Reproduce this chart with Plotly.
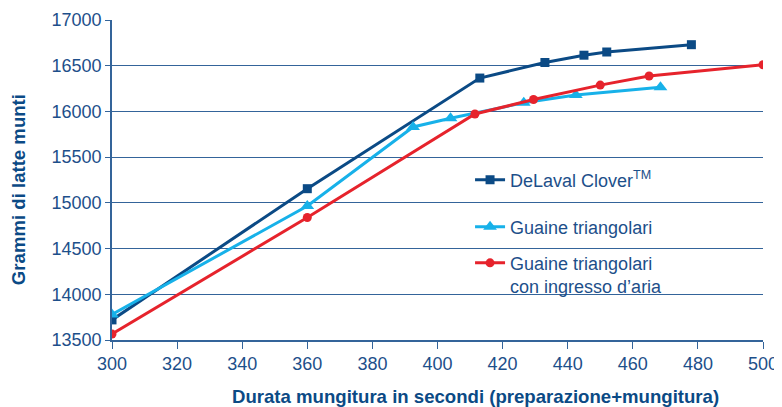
import plotly.graph_objects as go

clover_x = [300, 360, 413, 433, 445, 452, 478]
clover_y = [13720, 15155, 16365, 16535, 16615, 16650, 16730]

tri_x = [300, 360, 392.5, 404, 426.5, 442.5, 468.5]
tri_y = [13780, 14965, 15830, 15925, 16095, 16180, 16265]

air_x = [300, 360, 411.5, 429.5, 450, 465, 500]
air_y = [13565, 14840, 15972, 16130, 16288, 16388, 16510]

names = ["DeLaval Clover<sup>TM</sup>", "Guaine triangolari", "Guaine triangolari<br>con ingresso d\u2019aria"]
x_title = "Durata mungitura in secondi (preparazione+mungitura)"
y_title = "Grammi di latte munti"

NAVY = "#0b4a85"
LIGHT = "#17b1e9"
RED = "#e6232c"
TXT = "#1d4f8a"
GRID = "#34649a"
FONT = "Liberation Sans, Arial, sans-serif"
FS = 18

fig = go.Figure()
fig.add_trace(go.Scatter(x=clover_x, y=clover_y, name=names[0], mode="lines+markers",
                         line=dict(color=NAVY, width=3), marker=dict(symbol="square", size=9, color=NAVY),
                         legend="legend", showlegend=True))
fig.add_trace(go.Scatter(x=tri_x, y=tri_y, name=names[1], mode="lines+markers",
                         line=dict(color=LIGHT, width=3), marker=dict(symbol="triangle-up", size=12, color=LIGHT),
                         legend="legend2", showlegend=True))
fig.add_trace(go.Scatter(x=air_x, y=air_y, name=names[2], mode="lines+markers",
                         line=dict(color=RED, width=3), marker=dict(symbol="circle", size=9, color=RED),
                         legend="legend3", showlegend=True))

leg_common = dict(x=0.55, xanchor="left", yanchor="top", bgcolor="rgba(0,0,0,0)",
                  font=dict(size=FS, color=TXT), itemwidth=30, valign="top")

# page body has an 8px default margin, so the figure is offset by 8px
fig.update_layout(
    width=774, height=399,
    margin=dict(l=104, r=19, t=12, b=67),
    paper_bgcolor="white", plot_bgcolor="white",
    font=dict(family=FONT, color=TXT, size=FS),
    showlegend=True,
    legend=dict(y=0.558, **leg_common),
    legend2=dict(y=0.411, **leg_common),
    legend3=dict(y=0.298, **leg_common),
    xaxis=dict(range=[300, 500], dtick=20, showgrid=False, showline=True, linecolor=GRID, linewidth=1.5,
               ticks="outside", ticklen=7, tickcolor=GRID, zeroline=False, automargin=False,
               tickfont=dict(size=FS, color=TXT)),
    yaxis=dict(range=[13500, 17000], dtick=500, tickformat="d", showgrid=True, gridcolor=GRID, gridwidth=1,
               showline=True, linecolor=GRID, linewidth=1.5, ticks="outside", ticklen=5, tickcolor=GRID,
               zeroline=False, automargin=False, tickfont=dict(size=FS, color=TXT)),
    annotations=[
        dict(text="<b>" + x_title + "</b>", xref="paper", yref="paper", x=0.559, y=-0.178,
             xanchor="center", yanchor="middle", showarrow=False, font=dict(size=18.6, color=NAVY)),
        dict(text="<b>" + y_title + "</b>", xref="paper", yref="paper", x=-0.1425, y=0.469,
             xanchor="center", yanchor="middle", textangle=-90, showarrow=False,
             font=dict(size=18.6, color=NAVY)),
    ],
)

fig.write_html("out.html")
